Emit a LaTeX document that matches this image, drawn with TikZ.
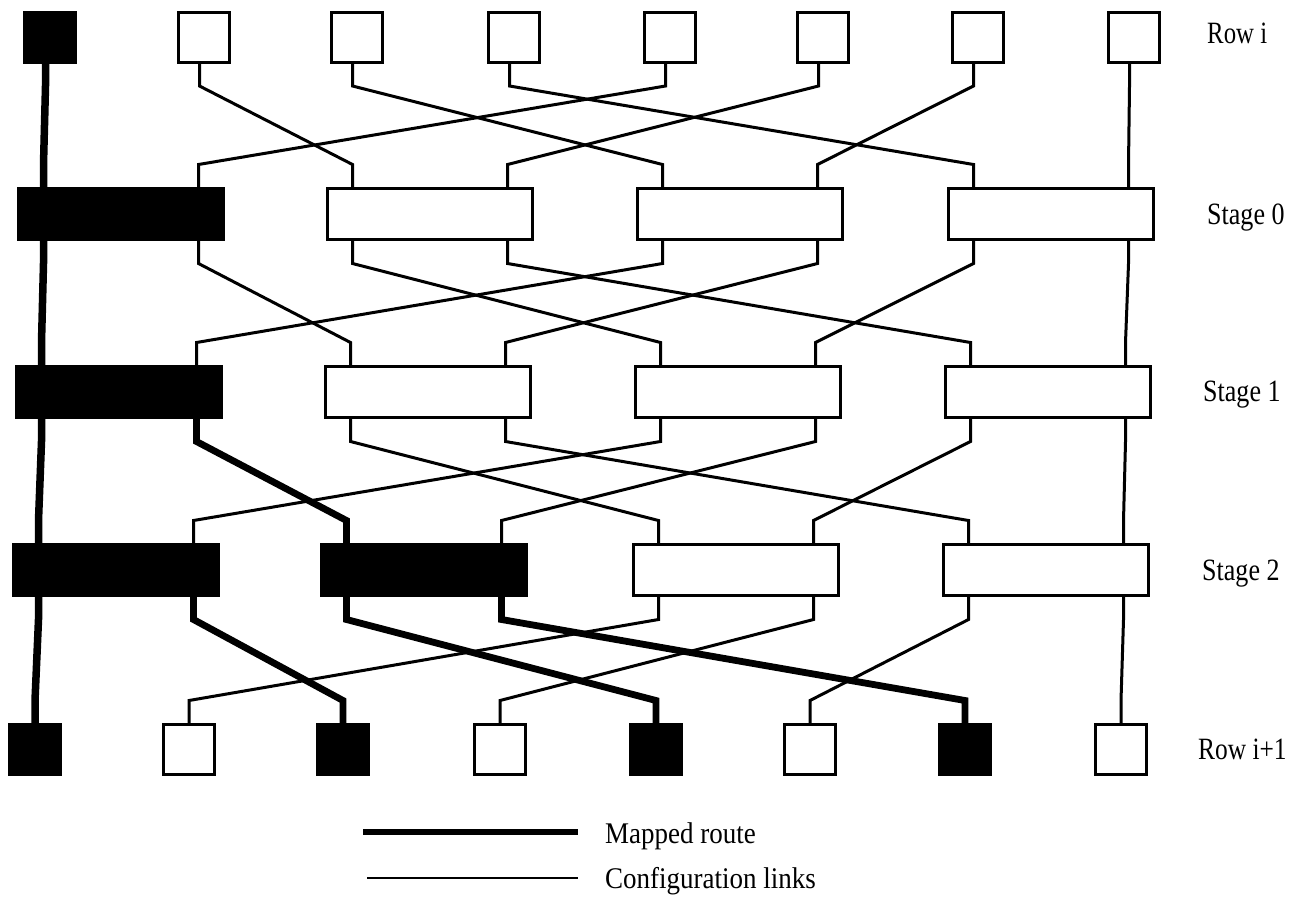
\documentclass[tikz,border=0pt]{standalone}
\usepackage{graphicx}
\usepackage{fontspec}
\setmainfont{Liberation Serif}
\usetikzlibrary{calc}
% wire: short drop from the source port, diagonal run, short drop into the target port
\newcommand\wire[3]{\draw[#1] (#2) -- ++(0,24) -- ($(#3)+(0,-24)$) -- (#3);}
\newcommand\narrow[2]{\scalebox{#1}[1]{#2}}
\begin{document}
\begin{tikzpicture}[x=1pt,y=-1pt,
  link/.style={line width=3pt,line join=miter},
  route/.style={line width=6.8pt,line join=miter},
  cell/.style={draw,line width=3pt,fill=white,minimum width=51pt,minimum height=50pt,inner sep=0pt,outer sep=0pt},
  cellon/.style={cell,fill=black},
  switch/.style={draw,line width=3pt,fill=white,minimum width=205pt,minimum height=51pt,inner sep=0pt,outer sep=0pt},
  switchon/.style={switch,fill=black},
  lbl/.style={anchor=base west,inner sep=0pt,font=\fontsize{31}{37}\selectfont},
  key/.style={anchor=base west,inner sep=0pt,font=\fontsize{30}{36}\selectfont}
]
\useasboundingbox (0,0) rectangle (1308,897);

% ---- Row i ----
\node[cellon] (top0) at (50,37) {};
\node[cell]   (top1) at (204,37) {};
\node[cell]   (top2) at (357,37) {};
\node[cell]   (top3) at (514,37) {};
\node[cell]   (top4) at (670,37) {};
\node[cell]   (top5) at (823,37) {};
\node[cell]   (top6) at (978,37) {};
\node[cell]   (top7) at (1134,37) {};

% ---- Stage 0 ----
\node[switchon] (s0b0) at (121,214) {};
\node[switch]   (s0b1) at (430,214) {};
\node[switch]   (s0b2) at (740,214) {};
\node[switch]   (s0b3) at (1051,214) {};
% ---- Stage 1 ----
\node[switchon] (s1b0) at (119,392) {};
\node[switch]   (s1b1) at (428,392) {};
\node[switch]   (s1b2) at (738,392) {};
\node[switch]   (s1b3) at (1048,392) {};
% ---- Stage 2 ----
\node[switchon] (s2b0) at (116,570) {};
\node[switchon] (s2b1) at (424,570) {};
\node[switch]   (s2b2) at (736,570) {};
\node[switch]   (s2b3) at (1046,570) {};

% ---- Row i+1 ----
\node[cellon] (bot0) at (35,749.5) {};
\node[cell]   (bot1) at (189,749.5) {};
\node[cellon] (bot2) at (343,749.5) {};
\node[cell]   (bot3) at (500,749.5) {};
\node[cellon] (bot4) at (656,749.5) {};
\node[cell]   (bot5) at (810,749.5) {};
\node[cellon] (bot6) at (965,749.5) {};
\node[cell]   (bot7) at (1121,749.5) {};

% ---- ports ----
\foreach \i in {0,...,7} {
  \coordinate (a\i) at ([xshift=-4.5pt]top\i.south);
  \coordinate (z\i) at (bot\i.north);
}
\foreach \st in {0,1,2} {
  \foreach \bx in {0,1,2,3} {
    \pgfmathtruncatemacro\pl{2*\bx}
    \pgfmathtruncatemacro\pr{2*\bx+1}
    \coordinate (s\st in\pl)  at ([xshift=25pt]s\st b\bx.north west);
    \coordinate (s\st in\pr)  at ([xshift=-25pt]s\st b\bx.north east);
    \coordinate (s\st out\pl) at ([xshift=25pt]s\st b\bx.south west);
    \coordinate (s\st out\pr) at ([xshift=-25pt]s\st b\bx.south east);
  }
}

% ---- configuration links (perfect shuffle between levels) ----
\foreach \i/\j in {1/2,2/4,3/6,4/1,5/3,6/5,7/7} {\wire{link}{a\i}{s0in\j}}
\foreach \i/\j in {1/2,2/4,3/6,4/1,5/3,6/5,7/7} {\wire{link}{s0out\i}{s1in\j}}
\foreach \i/\j in {2/4,3/6,4/1,5/3,6/5,7/7} {\wire{link}{s1out\i}{s2in\j}}
\foreach \i/\j in {4/1,5/3,6/5,7/7} {\wire{link}{s2out\i}{z\j}}

% ---- mapped route ----
\wire{route,line width=7.5pt}{a0}{s0in0}
\wire{route,line width=7.5pt}{s0out0}{s1in0}
\wire{route,line width=7.5pt}{s1out0}{s2in0}
\wire{route}{s1out1}{s2in2}
\wire{route,line width=7.5pt}{s2out0}{z0}
\foreach \i/\j in {1/2,2/4,3/6} {\wire{route}{s2out\i}{z\j}}

% ---- level labels ----
\node[lbl] (lrow0) at (1207,43)  {\narrow{0.8}{Row i}};
\node[lbl] (lst0)  at (1207,224) {\narrow{0.84}{Stage 0}};
\node[lbl] (lst1)  at (1203,401) {\narrow{0.84}{Stage 1}};
\node[lbl] (lst2)  at (1202,580) {\narrow{0.84}{Stage 2}};
\node[lbl] (lrow1) at (1198,759) {\narrow{0.82}{Row i+1}};

% ---- legend ----
\coordinate (k1a) at (363,832);
\coordinate (k1b) at (578,832);
\draw[route,line width=6pt] (k1a) -- (k1b);
\node[key] (k1) at (605,843) {\narrow{0.9}{Mapped route}};
\coordinate (k2a) at (367,878);
\coordinate (k2b) at (578,878);
\draw[line width=2.2pt] (k2a) -- (k2b);
\node[key] (k2) at (605,888) {\narrow{0.9}{Configuration links}};
\end{tikzpicture}
\end{document}
